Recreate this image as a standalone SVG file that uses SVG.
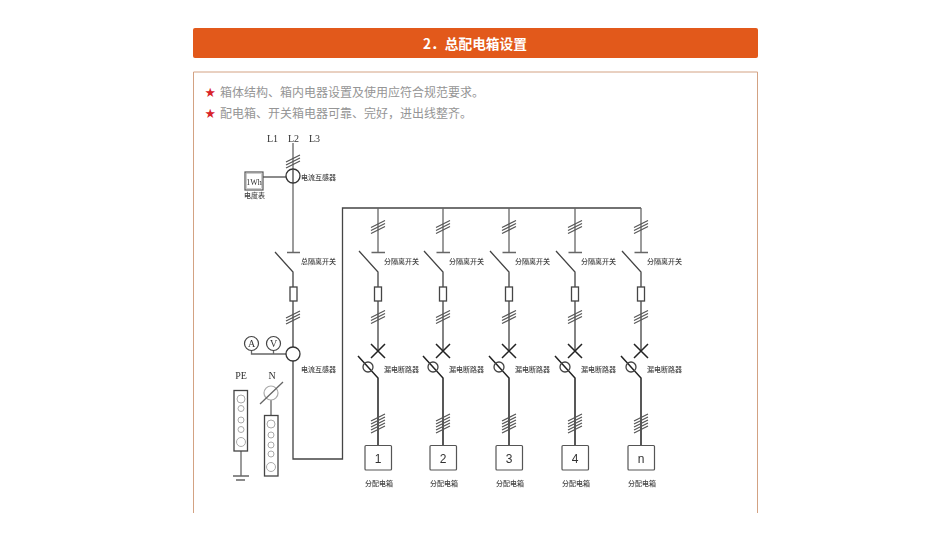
<svg xmlns="http://www.w3.org/2000/svg" xmlns:xlink="http://www.w3.org/1999/xlink" width="950" height="535" viewBox="0 0 950 535">
<style>
text{font-family:"Noto Sans CJK SC","Liberation Sans",sans-serif}
.l{fill:none;stroke:#444;stroke-width:1.3}
.h{fill:none;stroke:#555;stroke-width:1.2}
.d{fill:none;stroke:#222;stroke-width:1.5}
.g{fill:none;stroke:#666;stroke-width:1.3}
.c{fill:#fff;stroke:#aaa;stroke-width:1}
.t{font-size:7px;fill:#444;font-weight:500}
.s{font-family:"Liberation Serif",serif;font-size:10px;fill:#333}
.b{font-size:12px;fill:#959595}
.r{font-size:10.500px;fill:#d8232a}
.n{font-family:"Liberation Sans",sans-serif;font-size:12px;fill:#333;text-anchor:middle}
</style>
<defs>
<filter id="soft" x="-2%" y="-2%" width="104%" height="104%"><feGaussianBlur stdDeviation="0.4"/></filter>
<g id="feeder">
<path class="g" d="M0 208V252M-6.500 252.500H7"/>
<path class="h" d="M-7 227.500L7 220.500M-7 230.500L7 223.500M-7 233.500L7 226.500"/>
<path class="l" d="M-19 251L0 272V287M0 301V351"/>
<rect class="l" x="-3.500" y="287" width="7" height="14"/>
<path class="h" d="M-7 317.500L7 310.500M-7 320.500L7 313.500M-7 323.500L7 316.500"/>
<path class="d" d="M-7 344L7 358M7 344L-7 358"/>
<path class="d" d="M-20 356L0 378V445"/>
<circle class="l" cx="-10" cy="367" r="5"/>
<path class="h" d="M-7 421L7 414M-7 424L7 417M-7 427L7 420M-7 430L7 423M-7 433L7 426"/>
<rect x="-13" y="445.500" width="26.500" height="24.500" rx="1" fill="#fff" stroke="#555" stroke-width="1.2"/>
</g>
</defs>
<rect width="950" height="535" fill="#fff"/>
<g id="header">
<rect x="193" y="28" width="565" height="30" rx="2" fill="#e2591b"/>
<text x="423" y="49" font-size="13.700" font-weight="700" fill="#fff">2．总配电箱设置</text>
</g>
<g id="panel">
<path d="M193.500 513V72H757.500V513" fill="none" stroke="#d3a283" stroke-width="1"/>
<text class="r" x="205" y="96">★</text>
<text class="b" x="220" y="96.500">箱体结构、箱内电器设置及使用应符合规范要求。</text>
<text class="r" x="205" y="117">★</text>
<text class="b" x="220" y="117.500">配电箱、开关箱电器可靠、完好，进出线整齐。</text>
</g>
<g filter="url(#soft)">
<g id="connectors">
<path class="g" d="M293 143V252M263 177H286M287 252.500H300"/>
<path class="l" d="M275 252L293 272V287M293 301V347M293 361V459H342.500V208H641"/>
<path class="g" d="M251.500 350V354H286M273.500 350V354"/>
<path class="g" d="M241 451V476M233 476H249M236 480H245M271 400V415.500"/>
</g>
<g id="main">
<text class="s" x="267" y="142">L1</text><text class="s" x="288" y="142">L2</text><text class="s" x="309" y="142">L3</text>
<path class="h" d="M286 162L300 155M286 165L300 158M286 168L300 161"/>
<circle cx="293" cy="176" r="7" fill="#fff" stroke="#333" stroke-width="1.3"/>
<path class="l" d="M293 169V183"/>
<text class="t" x="301" y="180">电流互感器</text>
<text class="t" x="301" y="264">总隔离开关</text>
<rect class="l" x="290" y="287" width="7" height="14"/>
<path class="h" d="M286 318L300 311M286 321L300 314M286 324L300 317"/>
<circle cx="293" cy="354" r="7" fill="none" stroke="#333" stroke-width="1.3"/>
<text class="t" x="301" y="372">电流互感器</text>
</g>
<g id="meter">
<rect x="245" y="172" width="18" height="18" fill="#fff" stroke="#555" stroke-width="1.200"/>
<rect x="246.500" y="173.500" width="15" height="15" fill="none" stroke="#aaa" stroke-width=".6"/>
<text class="s" x="254" y="184.500" text-anchor="middle" style="font-size:8px">1Wh</text>
<text class="t" x="244" y="198">电度表</text>
</g>
<g id="ammeter"><circle cx="251.500" cy="343.500" r="7" fill="#fff" stroke="#444" stroke-width="1.200"/><text class="s" x="251.500" y="347" text-anchor="middle">A</text></g>
<g id="voltmeter"><circle cx="273.500" cy="343.500" r="7" fill="#fff" stroke="#444" stroke-width="1.200"/><text class="s" x="273.500" y="347" text-anchor="middle">V</text></g>
<g id="pe-bar">
<text class="s" x="241" y="379" text-anchor="middle">PE</text>
<rect x="234" y="390.500" width="13.500" height="60.500" fill="#fff" stroke="#444" stroke-width="1.300"/>
<circle class="c" cx="241" cy="399" r="4"/><circle class="c" cx="241" cy="408.500" r="3"/><circle class="c" cx="241" cy="420" r="3"/><circle class="c" cx="241" cy="429.500" r="3"/><circle class="c" cx="241" cy="442" r="4.500"/>
</g>
<g id="n-bar">
<text class="s" x="272" y="379" text-anchor="middle">N</text>
<circle cx="271" cy="393" r="7" fill="#fff" stroke="#aaa" stroke-width="1.200"/>
<path d="M260 404L283 382" class="g"/>
<rect x="264.500" y="415.500" width="13.500" height="60.500" fill="#fff" stroke="#444" stroke-width="1.300"/>
<circle class="c" cx="271" cy="424" r="4"/><circle class="c" cx="271" cy="435" r="3"/><circle class="c" cx="271" cy="445" r="3"/><circle class="c" cx="271" cy="454" r="3"/><circle class="c" cx="271" cy="467" r="4.500"/>
</g>
<g id="feeder-1"><use xlink:href="#feeder" href="#feeder" x="378"/><text class="n" x="378" y="462.500">1</text><text class="t" x="384" y="264">分隔离开关</text><text class="t" x="384" y="372">漏电断路器</text><text class="t" x="365" y="486">分配电箱</text></g>
<g id="feeder-2"><use xlink:href="#feeder" href="#feeder" x="443"/><text class="n" x="443" y="462.500">2</text><text class="t" x="449" y="264">分隔离开关</text><text class="t" x="449" y="372">漏电断路器</text><text class="t" x="430" y="486">分配电箱</text></g>
<g id="feeder-3"><use xlink:href="#feeder" href="#feeder" x="509"/><text class="n" x="509" y="462.500">3</text><text class="t" x="515" y="264">分隔离开关</text><text class="t" x="515" y="372">漏电断路器</text><text class="t" x="496" y="486">分配电箱</text></g>
<g id="feeder-4"><use xlink:href="#feeder" href="#feeder" x="575"/><text class="n" x="575" y="462.500">4</text><text class="t" x="581" y="264">分隔离开关</text><text class="t" x="581" y="372">漏电断路器</text><text class="t" x="562" y="486">分配电箱</text></g>
<g id="feeder-n"><use xlink:href="#feeder" href="#feeder" x="641"/><text class="n" x="641" y="462.500">n</text><text class="t" x="647" y="264">分隔离开关</text><text class="t" x="647" y="372">漏电断路器</text><text class="t" x="628" y="486">分配电箱</text></g>
</g>
</svg>
